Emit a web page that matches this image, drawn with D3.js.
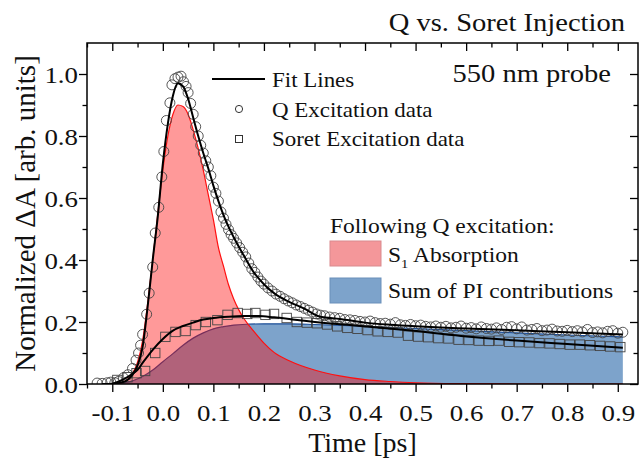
<!DOCTYPE html>
<html><head><meta charset="utf-8">
<script src="https://cdn.jsdelivr.net/npm/d3@7"></script>
<style>
body{margin:0;background:#fff}
svg{display:block}
text{font-family:"Liberation Serif","Times New Roman",serif;fill:#111}
</style>
</head><body>
<svg id="c" width="642" height="462"></svg>
<script>
// ---------- data ----------
const xTickVals = [-0.1,0,0.1,0.2,0.3,0.4,0.5,0.6,0.7,0.8,0.9];
const xMinorVals = [-0.15,-0.05,0.05,0.15,0.25,0.35,0.45,0.55,0.65,0.75,0.85];
const yTickVals = [0,0.2,0.4,0.6,0.8,1.0];
const yMinorVals = [0.1,0.3,0.5,0.7,0.9];

// S1 absorption component (red area)
const tS1 = [-0.12,-0.1,-0.09,-0.08,-0.07,-0.06,-0.05,-0.04,-0.03,-0.02,-0.01,0,0.01,0.02,0.03,0.04,0.05,0.06,0.07,0.08,0.09,0.10,0.11,0.12,0.13,0.14,0.15,0.16,0.17,0.18,0.20,0.22,0.25,0.30,0.35,0.40,0.45,0.50,0.60,0.70,0.80,0.91];
const vS1 = [0,0,0.001,0.005,0.015,0.035,0.07,0.14,0.26,0.40,0.55,0.69,0.80,0.87,0.90,0.895,0.87,0.82,0.76,0.69,0.61,0.53,0.44,0.38,0.32,0.275,0.24,0.212,0.19,0.17,0.132,0.102,0.075,0.045,0.026,0.014,0.008,0.004,0.001,0,0,0];

// Sum of PI contributions (blue area)
const tPI = [-0.12,-0.1,-0.08,-0.06,-0.04,-0.02,0,0.02,0.04,0.06,0.08,0.10,0.12,0.14,0.17,0.20,0.25,0.30,0.40,0.50,0.60,0.70,0.80,0.91];
const vPI = [0,0,0.003,0.01,0.024,0.045,0.072,0.098,0.125,0.148,0.165,0.178,0.185,0.19,0.193,0.194,0.194,0.192,0.186,0.179,0.172,0.165,0.158,0.152];

// Fit line, Q excitation
const tFitQ = [-0.12,-0.1,-0.08,-0.07,-0.06,-0.05,-0.04,-0.03,-0.02,-0.01,0,0.01,0.02,0.03,0.04,0.05,0.06,0.07,0.08,0.09,0.10,0.11,0.12,0.14,0.16,0.18,0.20,0.22,0.25,0.28,0.31,0.35,0.40,0.45,0.50,0.55,0.60,0.70,0.80,0.91];
const vFitQ = [0,0.001,0.006,0.013,0.03,0.06,0.12,0.25,0.40,0.54,0.71,0.84,0.93,0.97,0.96,0.92,0.86,0.80,0.745,0.695,0.64,0.59,0.545,0.474,0.415,0.36,0.322,0.293,0.265,0.243,0.218,0.21,0.198,0.191,0.186,0.182,0.179,0.173,0.167,0.16];

// Fit line, Soret excitation
const tFitS = [-0.1,-0.08,-0.06,-0.05,-0.04,-0.02,0,0.02,0.04,0.06,0.08,0.10,0.13,0.16,0.19,0.22,0.25,0.28,0.32,0.38,0.48,0.59,0.70,0.80,0.91];
const vFitS = [0,0.013,0.033,0.046,0.068,0.11,0.145,0.172,0.187,0.198,0.208,0.213,0.217,0.219,0.219,0.215,0.21,0.204,0.197,0.189,0.174,0.155,0.14,0.129,0.117];

// Q excitation data (circles)
const tQ = [-0.13,-0.12,-0.11,-0.103,-0.095,-0.088,-0.078,-0.069,-0.06,-0.053,-0.048,-0.044,-0.040,-0.032,-0.027,-0.020,-0.015,-0.008,-0.002,0.002,0.007,0.014,0.018,0.024,0.030,0.036,0.041,0.046,0.050,0.055,0.060,0.065,0.070,0.075,0.080,0.085,0.090,0.095,0.100,0.105,0.110,0.115,0.120,0.125,0.130,0.135,0.140,0.146,0.152,0.158,0.164,0.170,0.176,0.182,0.188,0.194,0.200,0.208,0.216,0.224,0.232,0.240,0.248,0.256,0.264,0.272,0.280,0.288,0.296,0.304,0.312,
0.32,0.33,0.34,0.35,0.36,0.37,0.38,0.39,0.40,0.41,0.42,0.43,0.44,0.45,0.46,0.47,0.48,0.49,0.50,0.51,0.52,0.53,0.54,0.55,0.56,0.57,0.58,0.59,0.60,0.61,0.62,0.63,0.64,0.65,0.66,0.67,0.68,0.69,0.70,0.71,0.72,0.73,0.74,0.75,0.76,0.77,0.78,0.79,0.80,0.81,0.82,0.83,0.84,0.85,0.86,0.87,0.88,0.89,0.90,0.91];
const vQ = [0.003,0.002,0.004,0.006,0.004,0.008,0.02,0.03,0.05,0.077,0.10,0.125,0.16,0.225,0.293,0.377,0.487,0.57,0.668,0.75,0.85,0.907,0.965,0.985,0.99,0.993,0.975,0.96,0.94,0.905,0.87,0.83,0.80,0.77,0.745,0.72,0.70,0.672,0.635,0.615,0.59,0.555,0.535,0.515,0.498,0.482,0.47,0.455,0.44,0.425,0.41,0.39,0.372,0.36,0.345,0.332,0.322,0.31,0.30,0.29,0.283,0.275,0.268,0.262,0.255,0.25,0.244,0.238,0.232,0.226,0.222,
0.220,0.216,0.214,0.212,0.208,0.207,0.205,0.202,0.200,0.203,0.198,0.195,0.196,0.193,0.198,0.191,0.189,0.192,0.188,0.190,0.186,0.184,0.187,0.183,0.186,0.181,0.183,0.187,0.180,0.182,0.178,0.184,0.179,0.177,0.181,0.176,0.183,0.185,0.178,0.184,0.174,0.176,0.179,0.172,0.174,0.177,0.171,0.170,0.173,0.169,0.172,0.168,0.176,0.166,0.168,0.165,0.170,0.172,0.164,0.167];

// Soret excitation data (squares)
const tSq = [-0.09,-0.07,-0.052,-0.035,-0.015,0.005,0.025,0.045,0.065,0.085,0.108,0.128,0.148,0.167,0.183,0.203,0.22,0.245,0.265,0.285,0.305,0.325,0.345,0.365,0.385,0.405,0.425,0.445,0.465,0.485,0.505,0.525,0.545,0.565,0.585,0.605,0.625,0.645,0.665,0.685,0.705,0.725,0.745,0.765,0.785,0.805,0.825,0.845,0.865,0.885,0.905];
const vSq = [0.013,0.022,0.035,0.042,0.10,0.152,0.168,0.171,0.19,0.20,0.206,0.223,0.229,0.226,0.229,0.223,0.226,0.213,0.20,0.198,0.196,0.192,0.186,0.181,0.178,0.174,0.170,0.168,0.166,0.156,0.153,0.151,0.148,0.147,0.143,0.142,0.140,0.139,0.140,0.136,0.135,0.134,0.132,0.131,0.129,0.127,0.127,0.125,0.123,0.121,0.119];

// ---------- drawing ----------
const svg = d3.select("#c");
const L = 87, R = 638, T = 43, B = 384;
const x = d3.scaleLinear().domain([-0.15, 0.94]).range([L, R]);
const y = d3.scaleLinear().domain([0, 1.1]).range([B, T]);
const SX = 1.12;

const zip = (a, b) => a.map((t, i) => [t, b[i]]);

const plot = svg.append("g");
plot.append("clipPath").attr("id","clip").append("rect")
  .attr("x", L).attr("y", T).attr("width", R - L).attr("height", B - T);
const g = plot.append("g").attr("clip-path","url(#clip)");

const area = d3.area().x(d => x(d[0])).y0(y(0)).y1(d => y(d[1])).curve(d3.curveMonotoneX);
const line = d3.line().x(d => x(d[0])).y(d => y(d[1])).curve(d3.curveMonotoneX);

// blue area
g.append("path").datum(zip(tPI, vPI)).attr("d", area).attr("fill", "#7da3cb");
g.append("path").datum(zip(tPI, vPI)).attr("d", line).attr("fill", "none")
  .attr("stroke", "#1d4f98").attr("stroke-width", 1.2);
// red area
g.append("path").datum(zip(tS1, vS1)).attr("d", area).attr("fill", "#ff0000").attr("fill-opacity", 0.4);
g.append("path").datum(zip(tS1, vS1)).attr("d", line).attr("fill", "none")
  .attr("stroke", "#ff1010").attr("stroke-width", 1.2);

// data markers
g.selectAll("circle.q").data(zip(tQ, vQ)).enter().append("circle")
  .attr("cx", d => x(d[0])).attr("cy", d => y(d[1])).attr("r", 5)
  .attr("fill", "none").attr("stroke", "#444").attr("stroke-width", 0.9);
g.selectAll("rect.s").data(zip(tSq, vSq)).enter().append("rect")
  .attr("x", d => x(d[0]) - 4.7).attr("y", d => y(d[1]) - 4.7).attr("width", 9.4).attr("height", 9.4)
  .attr("fill", "none").attr("stroke", "#444").attr("stroke-width", 0.9);

// fit lines
g.append("path").datum(zip(tFitQ, vFitQ)).attr("d", line).attr("fill", "none")
  .attr("stroke", "#000").attr("stroke-width", 2);
g.append("path").datum(zip(tFitS, vFitS)).attr("d", line).attr("fill", "none")
  .attr("stroke", "#000").attr("stroke-width", 2);

// ---------- axes ----------
const fmt = d => d.toFixed(1);
function styleAxis(sel){
  sel.selectAll("path.domain").remove();
  sel.selectAll("line").attr("stroke","#000").attr("stroke-width",1.3);
}
const gxb = svg.append("g").attr("transform",`translate(0,${B})`)
  .call(d3.axisBottom(x).tickValues(xTickVals).tickSize(8).tickFormat(fmt));
styleAxis(gxb);
gxb.selectAll("text").attr("y",null).attr("dy",null).attr("font-size",24)
  .attr("transform",`translate(0,37) scale(${SX},1)`).attr("fill","#111");
const gxbm = svg.append("g").attr("transform",`translate(0,${B})`)
  .call(d3.axisBottom(x).tickValues(xMinorVals).tickSize(4.5).tickFormat(""));
styleAxis(gxbm);
const gxt = svg.append("g").attr("transform",`translate(0,${T})`)
  .call(d3.axisTop(x).tickValues(xTickVals).tickSize(-8).tickFormat(""));
styleAxis(gxt);
const gxtm = svg.append("g").attr("transform",`translate(0,${T})`)
  .call(d3.axisTop(x).tickValues(xMinorVals).tickSize(-4.5).tickFormat(""));
styleAxis(gxtm);

const gyl = svg.append("g").attr("transform",`translate(${L},0)`)
  .call(d3.axisLeft(y).tickValues(yTickVals).tickSize(8).tickFormat(fmt));
styleAxis(gyl);
gyl.selectAll("text").attr("x",null).attr("dy","0.34em").attr("font-size",24)
  .attr("transform",`translate(-9,0) scale(${SX},1)`).attr("fill","#111");
const gylm = svg.append("g").attr("transform",`translate(${L},0)`)
  .call(d3.axisLeft(y).tickValues(yMinorVals).tickSize(4.5).tickFormat(""));
styleAxis(gylm);
const gyr = svg.append("g").attr("transform",`translate(${R},0)`)
  .call(d3.axisRight(y).tickValues(yTickVals).tickSize(-8).tickFormat(""));
styleAxis(gyr);
const gyrm = svg.append("g").attr("transform",`translate(${R},0)`)
  .call(d3.axisRight(y).tickValues(yMinorVals).tickSize(-4.5).tickFormat(""));
styleAxis(gyrm);

// frame
svg.append("rect").attr("x",L).attr("y",T).attr("width",R-L).attr("height",B-T)
  .attr("fill","none").attr("stroke","#000").attr("stroke-width",1.5);

// ---------- texts ----------
function stext(px, py, str, size, anchor){
  return svg.append("text").attr("transform",`translate(${px},${py}) scale(${SX},1)`)
    .attr("font-size",size).attr("text-anchor",anchor||"start").text(str);
}
stext(625, 31, "Q vs. Soret Injection", 25.5, "end");
stext(611, 82, "550 nm probe", 25.5, "end");

svg.append("text").attr("transform",`translate(35,${(T+B)/2}) rotate(-90)`)
  .attr("font-size",29).attr("text-anchor","middle").text("Normalized \u0394A [arb. units]");
svg.append("text").attr("x",(L+R)/2).attr("y",452)
  .attr("font-size",28).attr("text-anchor","middle").text("Time [ps]");

// legend 1
svg.append("line").attr("x1",212).attr("x2",265).attr("y1",79).attr("y2",79)
  .attr("stroke","#000").attr("stroke-width",2);
stext(272, 87, "Fit Lines", 20.5);
svg.append("circle").attr("cx",239).attr("cy",109).attr("r",3.6)
  .attr("fill","none").attr("stroke","#333").attr("stroke-width",1);
stext(272, 117, "Q Excitation data", 20.5);
svg.append("rect").attr("x",235.5).attr("y",135.5).attr("width",7).attr("height",7)
  .attr("fill","none").attr("stroke","#333").attr("stroke-width",1);
stext(272, 146, "Soret Excitation data", 20.5);

// legend 2
stext(330, 233, "Following Q excitation:", 21);
svg.append("rect").attr("x",330).attr("y",241).attr("width",51).attr("height",25)
  .attr("fill","#f4979a").attr("stroke","#d98a8e").attr("stroke-width",1);
const s1 = svg.append("text").attr("transform",`translate(388,262) scale(${SX},1)`).attr("font-size",21);
s1.append("tspan").text("S");
s1.append("tspan").attr("font-size",13).attr("dy",6).text("1");
s1.append("tspan").attr("dy",-6).text(" Absorption");
svg.append("rect").attr("x",330).attr("y",278).attr("width",51).attr("height",25)
  .attr("fill","#7da3cb").attr("stroke","#6a8fba").attr("stroke-width",1);
stext(388, 298, "Sum of PI contributions", 21);
</script>
</body></html>
